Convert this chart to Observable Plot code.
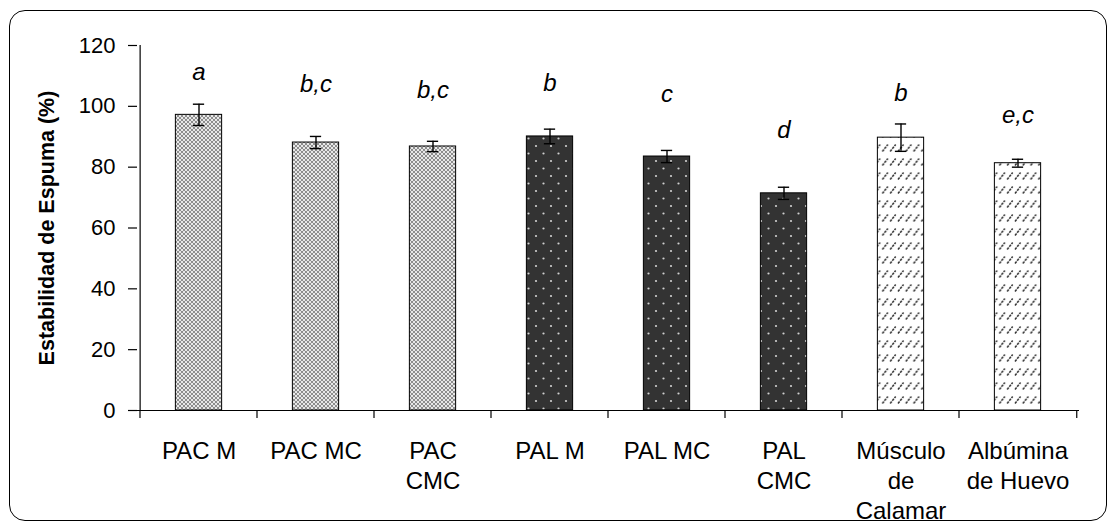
<!DOCTYPE html>
<html>
<head>
<meta charset="utf-8">
<script src="https://cdn.jsdelivr.net/npm/d3@7"></script>
<script src="https://cdn.jsdelivr.net/npm/@observablehq/plot@0.6"></script>
<style>
  html, body { margin: 0; padding: 0; background: #fff; overflow: hidden; }
  #wrap { position: relative; width: 1110px; height: 525px; }
  #border { position: absolute; left: 9px; top: 10px; width: 1096px; height: 509px;
            border: 1.5px solid #000; border-radius: 16px; }
  #chart { position: absolute; left: 0; top: 0; }
  svg { font-family: Arial, "Liberation Sans", sans-serif; }
</style>
</head>
<body>
<div id="wrap"><div id="border"></div><div id="chart"></div></div>
<script>
const categories = ["PAC M","PAC MC","PAC CMC","PAL M","PAL MC","PAL CMC","Músculo de Calamar","Albúmina de Huevo"];
const tickLabels = ["PAC M","PAC MC","PAC\nCMC","PAL M","PAL MC","PAL\nCMC","Músculo\nde\nCalamar","Albúmina\nde Huevo"];
const groups = ["PAC","PAC","PAC","PAL","PAL","PAL","REF","REF"];
const values = [97.2, 88.1, 86.8, 90.1, 83.5, 71.4, 89.7, 81.3];
const errors = [3.5, 2.0, 1.7, 2.4, 2.0, 2.0, 4.5, 1.3];
const letters = ["a","b,c","b,c","b","c","d","b","e,c"];
const letterY = [108.5, 104.6, 102.6, 104.9, 101.3, 89.5, 101.9, 94.4];
const yTicks = [0, 20, 40, 60, 80, 100, 120];

const data = categories.map((c, i) => ({
  cat: c, group: groups[i], v: values[i], e: errors[i], letter: letters[i], ly: letterY[i], label: tickLabels[i]
}));

const W = 1110, H = 525, mL = 137, mR = 31, mT = 45, mB = 115;
const bw = (W - mL - mR) / categories.length;
const barInset = (bw - 47) / 2;
const capInset = (bw - 12) / 2;

const chart = Plot.plot({
  width: W, height: H,
  marginLeft: mL, marginRight: mR, marginTop: mT, marginBottom: mB,
  style: { color: "#000", fontFamily: "Arial, 'Liberation Sans', sans-serif", background: "transparent" },
  x: { domain: categories, padding: 0, axis: null },
  y: { domain: [0, 120], axis: null },
  marks: [
    Plot.barY(data.filter(d => d.group === "PAC"), { x: "cat", y: "v", fill: "url(#patPAC)", stroke: "#000", strokeWidth: 1, insetLeft: barInset, insetRight: barInset }),
    Plot.barY(data.filter(d => d.group === "PAL"), { x: "cat", y: "v", fill: "url(#patPAL)", stroke: "#000", strokeWidth: 1, insetLeft: barInset, insetRight: barInset }),
    Plot.barY(data.filter(d => d.group === "REF"), { x: "cat", y: "v", fill: "url(#patREF)", stroke: "#000", strokeWidth: 1, insetLeft: barInset, insetRight: barInset }),
    Plot.ruleX(data, { x: "cat", y1: d => d.v - d.e, y2: d => d.v + d.e, stroke: "#000", strokeWidth: 1.4 }),
    Plot.tickY(data, { x: "cat", y: d => d.v + d.e, stroke: "#000", strokeWidth: 1.4, insetLeft: capInset, insetRight: capInset }),
    Plot.tickY(data, { x: "cat", y: d => d.v - d.e, stroke: "#000", strokeWidth: 1.4, insetLeft: capInset, insetRight: capInset }),
    Plot.ruleY([0], { stroke: "#000", strokeWidth: 1.2 }),
    Plot.ruleX([categories[0]], { y1: 0, y2: 120, dx: -bw / 2, stroke: "#000", strokeWidth: 1.2 }),
    Plot.axisY({ ticks: yTicks, tickSize: 9, tickFormat: () => "", strokeWidth: 1.2 }),
    Plot.text(yTicks, { y: d => d, frameAnchor: "left", dx: -22, textAnchor: "end", lineAnchor: "middle", fontSize: 22, fill: "#000", text: d => String(d) }),
    Plot.text(data, { x: "cat", y: "ly", text: "letter", fontStyle: "italic", fontSize: 24, lineAnchor: "bottom", fill: "#000" }),
    Plot.text(data, { x: "cat", y: 0, text: "label", dy: 27, lineAnchor: "top", fontSize: 24, lineHeight: 1.25, fill: "#000" }),
    Plot.text(["Estabilidad de Espuma (%)"], { frameAnchor: "left", dx: -90, rotate: -90, textAnchor: "middle", lineAnchor: "middle", fontWeight: "bold", fontSize: 21.5, fill: "#000" })
  ]
});

const xs = chart.scale("x");
const ys = chart.scale("y");

const ns = "http://www.w3.org/2000/svg";
const defs = document.createElementNS(ns, "defs");
defs.innerHTML = `
  <pattern id="patPAC" patternUnits="userSpaceOnUse" width="4" height="4">
    <rect width="4" height="4" fill="#8c8c8c"/>
    <circle cx="0" cy="0" r="1.1" fill="#fff"/>
    <circle cx="4" cy="0" r="1.1" fill="#fff"/>
    <circle cx="0" cy="4" r="1.1" fill="#fff"/>
    <circle cx="4" cy="4" r="1.1" fill="#fff"/>
    <circle cx="2" cy="2" r="1.1" fill="#fff"/>
  </pattern>
  <pattern id="patPAL" patternUnits="userSpaceOnUse" width="15" height="15">
    <rect width="15" height="15" fill="#333"/>
    <circle cx="3.5" cy="3.5" r="1.1" fill="#d0d0d0"/>
    <circle cx="11" cy="11" r="1.1" fill="#d0d0d0"/>
  </pattern>
  <pattern id="patREF" patternUnits="userSpaceOnUse" width="7.8" height="14">
    <rect width="7.8" height="14" fill="#fff"/>
    <line x1="1" y1="11.5" x2="6.5" y2="4.5" stroke="#333" stroke-width="1.5" stroke-dasharray="2.5,1"/>
  </pattern>`;
chart.insertBefore(defs, chart.firstChild);

// boundary ticks below the x axis
const g = document.createElementNS(ns, "g");
const y0 = ys.apply(0);
for (let i = 0; i <= categories.length; i++) {
  const x = i < categories.length ? xs.apply(categories[i]) : xs.apply(categories[categories.length - 1]) + bw;
  const l = document.createElementNS(ns, "line");
  l.setAttribute("x1", x); l.setAttribute("x2", x);
  l.setAttribute("y1", y0); l.setAttribute("y2", y0 + 8);
  l.setAttribute("stroke", "#000"); l.setAttribute("stroke-width", "1.2");
  g.appendChild(l);
}
chart.appendChild(g);

document.getElementById("chart").appendChild(chart);
</script>
</body>
</html>
